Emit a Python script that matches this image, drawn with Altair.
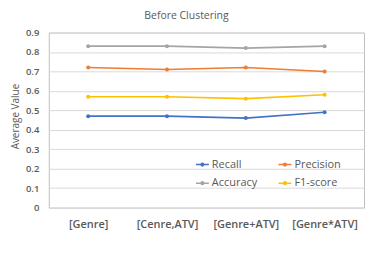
import altair as alt
import pandas as pd

categories = ["[Genre]", "[Cenre,ATV]", "[Genre+ATV]", "[Genre*ATV]"]
series = ["Recall", "Precision", "Accuracy", "F1-score"]
recall = [0.47, 0.47, 0.46, 0.49]
precision = [0.72, 0.71, 0.72, 0.70]
accuracy = [0.83, 0.83, 0.82, 0.83]
f1 = [0.57, 0.57, 0.56, 0.58]
colors = ["#4472C4", "#ED7D31", "#A5A5A5", "#FFC000"]

rows = []
for name, vals in zip(series, [recall, precision, accuracy, f1]):
    for c, v in zip(categories, vals):
        rows.append({"cat": c, "series": name, "value": v})
df = pd.DataFrame(rows)

font = "Open Sans"
gray = "#595959"

chart = alt.Chart(df).mark_line(
    strokeWidth=1.6,
    point=alt.OverlayMarkDef(filled=True, size=16),
).encode(
    x=alt.X("cat:N", sort=categories, title=None,
            scale=alt.Scale(type="point", padding=0.5),
            axis=alt.Axis(labelAngle=0, labelFont=font, labelFontSize=11,
                          labelFontWeight=600, labelColor=gray, ticks=False,
                          domain=False, labelPadding=11, grid=False)),
    y=alt.Y("value:Q", title="Average Value",
            scale=alt.Scale(domain=[0, 0.9], nice=False),
            axis=alt.Axis(values=[0, 0.1, 0.2, 0.3, 0.4, 0.5, 0.6, 0.7, 0.8, 0.9],
                          format="~g", labelFont=font, labelFontSize=9.5,
                          labelFontWeight=600, labelColor=gray, ticks=False,
                          domain=False, gridColor="#D9D9D9", gridWidth=1,
                          labelPadding=10,
                          titleFont=font, titleFontSize=10, titleFontWeight="normal",
                          titleColor=gray, titleX=-28, titleY=84)),
    color=alt.Color("series:N", sort=series,
                    scale=alt.Scale(domain=series, range=colors),
                    legend=alt.Legend(
                        title=None, orient="none", legendX=147, legendY=125,
                        direction="horizontal",
                        columns=2, columnPadding=17, rowPadding=6,
                        labelFont=font, labelFontSize=11, labelColor=gray,
                        labelOffset=2,
                        symbolType="M-1,0L1,0M-0.2,0a0.2,0.2 0 1,0 0.4,0a0.2,0.2 0 1,0 -0.4,0",
                        symbolSize=169, symbolStrokeWidth=1.6)),
).properties(
    width=317, height=176,
    title=alt.TitleParams("Before Clustering", font=font, fontSize=10.5,
                          fontWeight="normal", color=gray, offset=6, dx=-20),
    autosize=alt.AutoSizeParams(type="none"),
    padding={"left": 41, "top": 24, "right": 2, "bottom": 45},
).configure_view(stroke="#BFBFBF", strokeWidth=1)

chart.save("out.html", embed_options={"renderer": "svg", "actions": False})
